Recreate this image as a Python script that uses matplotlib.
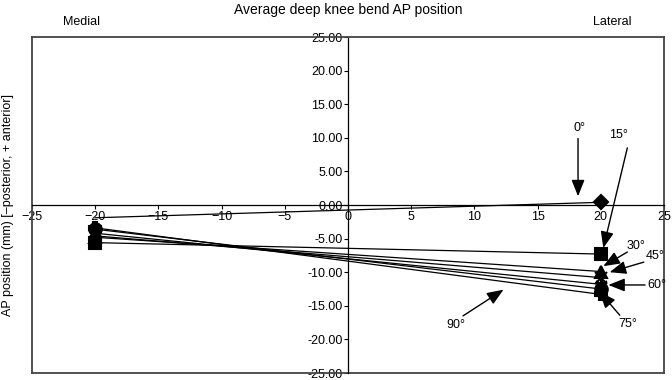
import matplotlib.pyplot as plt
import matplotlib.ticker as mticker

plt.rcParams['font.family'] = ['Liberation Sans', 'DejaVu Sans']

# flexion angles and AP positions (mm) of medial and lateral condyles
angles = ['0°', '15°', '30°', '45°', '60°', '75°', '90°']
medial_x = -20
lateral_x = 20
medial_ap = [-1.9, -5.6, -4.8, -4.6, -4.2, -3.6, -3.4]
lateral_ap = [0.4, -7.3, -9.9, -10.8, -11.8, -12.5, -13.3]
markers = ['D', 's', '^', 'x', (6, 2, 0), 'o', 'P']
marker_sizes = [7, 9, 9, 8, 9, 9, 9]

# label text position, arrow tail, arrow tip (data coords)
label_pos = [(18.35, 11.4), (21.4, 10.4), (22.8, -6.1), (24.3, -7.6),
             (24.4, -11.9), (22.1, -17.7), (8.5, -17.9)]
arrow_tail = [(18.2, 9.9), (22.1, 8.5), (22.1, -7.0), (23.4, -8.5),
              (23.5, -11.9), (21.5, -16.4), (9.1, -16.5)]
arrow_tip = [(18.2, 1.3), (20.2, -6.4), (20.2, -9.1), (20.7, -10.0),
             (20.6, -11.9), (19.9, -12.9), (12.3, -12.6)]

fig = plt.figure(figsize=(6.72, 3.8), dpi=100)
ax = fig.add_axes([32 / 672, 1 - 373 / 380, 632 / 672, 336 / 380])
ax.set_xlim(-25, 25)
ax.set_ylim(-25, 25)

for i in range(len(angles)):
    # 0° medial marker is hidden under the tick label in the original
    every = [1] if i == 0 else None
    ax.plot([medial_x, lateral_x], [medial_ap[i], lateral_ap[i]],
            color='black', lw=0.9, marker=markers[i], ms=marker_sizes[i],
            mfc='black', mec='black', mew=1.5, markevery=every, zorder=5)

for i in range(len(angles)):
    ax.annotate('', xy=arrow_tip[i], xytext=arrow_tail[i],
                arrowprops=dict(arrowstyle='-|>,head_length=1.0,head_width=0.4',
                                color='black', lw=1,
                                mutation_scale=10, shrinkA=0, shrinkB=0),
                zorder=6)
    ax.text(label_pos[i][0], label_pos[i][1], angles[i], fontsize=9,
            ha='center', va='center', zorder=6)

# axes through the origin, frame around the plot
ax.spines['left'].set_position(('data', 0))
ax.spines['bottom'].set_position(('data', 0))
for s in ['left', 'bottom']:
    ax.spines[s].set_color('black')
    ax.spines[s].set_linewidth(0.9)
for s in ['top', 'right']:
    ax.spines[s].set_color('#444444')
    ax.spines[s].set_linewidth(1.3)
ax.axvline(-25, color='#444444', lw=1.3, clip_on=False)
ax.axhline(-25, color='#444444', lw=1.3, clip_on=False)

ax.set_xticks(range(-25, 26, 5))
ax.set_yticks(range(-25, 26, 5))
ax.yaxis.set_major_formatter(mticker.FormatStrFormatter('%.2f'))
ax.tick_params(direction='out', length=3, width=0.8, labelsize=9, pad=1)

fig.text(348 / 672, 1 - 10 / 380, 'Average deep knee bend AP position',
         ha='center', va='center', fontsize=10)
fig.text(82 / 672, 1 - 22 / 380, 'Medial', ha='center', va='center', fontsize=9)
fig.text(612 / 672, 1 - 22 / 380, 'Lateral', ha='center', va='center', fontsize=9)
fig.text(8 / 672, 1 - 205 / 380, 'AP position (mm) [\u2013posterior, + anterior]',
         ha='center', va='center', rotation=90, fontsize=9)

fig.savefig('out.png', dpi=100)
